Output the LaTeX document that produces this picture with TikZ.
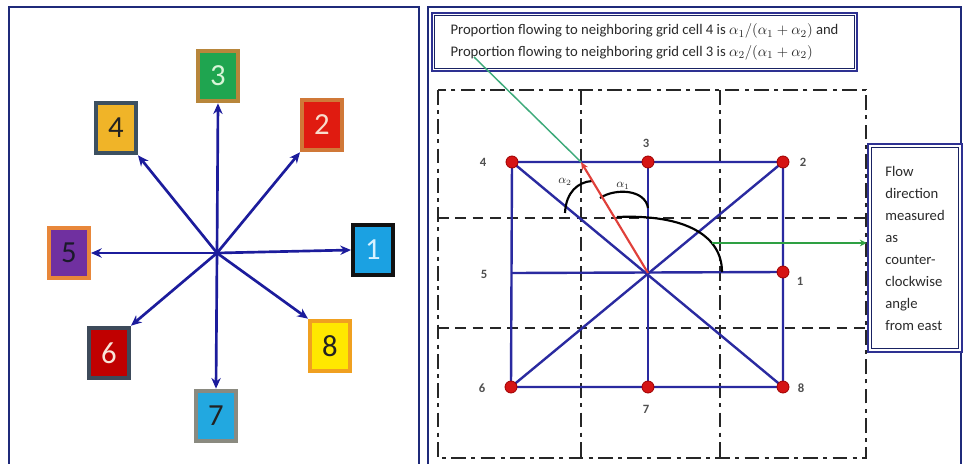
\documentclass[tikz,border=0pt]{standalone}
\usepackage{fontspec}
\setmainfont{Carlito}
\usetikzlibrary{arrows.meta}
\definecolor{panelblue}{HTML}{1F2A7A}
\definecolor{boxblue}{HTML}{2E3192}
\definecolor{lineblue}{HTML}{2A2AA0}
\definecolor{arrowblue}{HTML}{1C1C9C}
\definecolor{textgray}{HTML}{2A2A2A}
\definecolor{labelgray}{HTML}{505050}
\definecolor{dotred}{HTML}{D51414}
\definecolor{dotedge}{HTML}{A00000}
\definecolor{redline}{HTML}{E0403A}
\definecolor{tealline}{HTML}{3DAA7A}
\definecolor{greenarrow}{HTML}{2EA043}
\definecolor{fillA}{HTML}{1BA1E2}\definecolor{edgeA}{HTML}{111111}\definecolor{txtA}{HTML}{D8F2FF}
\definecolor{fillB}{HTML}{E01B10}\definecolor{edgeB}{HTML}{D07838}\definecolor{txtB}{HTML}{F8DCCC}
\definecolor{fillC}{HTML}{1FA550}\definecolor{edgeC}{HTML}{B8863B}\definecolor{txtC}{HTML}{D8F5D8}
\definecolor{fillD}{HTML}{F0B428}\definecolor{edgeD}{HTML}{3C5060}\definecolor{txtD}{HTML}{222222}
\definecolor{fillE}{HTML}{7030A0}\definecolor{edgeE}{HTML}{E8873A}\definecolor{txtE}{HTML}{1A1A2A}
\definecolor{fillF}{HTML}{C00000}\definecolor{edgeF}{HTML}{3D4A5A}\definecolor{txtF}{HTML}{F8E4D8}
\definecolor{fillG}{HTML}{22A8E0}\definecolor{edgeG}{HTML}{8A8A80}\definecolor{txtG}{HTML}{222222}
\definecolor{fillH}{HTML}{FFE800}\definecolor{edgeH}{HTML}{F0A020}\definecolor{txtH}{HTML}{222222}
\tikzset{
  panel/.style={draw=panelblue, line width=1.6pt},
  cbox/.style={rectangle, line width=3pt, minimum width=30pt, minimum height=38pt,
    inner sep=0pt, font=\fontsize{23}{26}\selectfont},
  barrow/.style={draw=arrowblue, line width=2pt, -{Stealth[length=8pt,width=7pt]}},
  griddash/.style={draw=black!85, line width=1.7pt, dash pattern=on 11pt off 4pt on 3pt off 4pt},
  gridmid/.style={draw=black!85, line width=1.7pt, dash pattern=on 8pt off 5pt},
  bline/.style={draw=lineblue, line width=1.8pt},
  angarc/.style={draw=black, line width=1.6pt},
  dot/.style={fill=dotred, draw=dotedge, line width=0.6pt},
  glabel/.style={text=labelgray, font=\fontsize{9.5}{11}\selectfont\bfseries, inner sep=0pt},
  alabel/.style={text=textgray, font=\fontsize{9}{10}\selectfont, inner sep=0pt},
  tbox/.style={draw=boxblue, line width=1.6pt, fill=white, minimum width=318.75pt,
    minimum height=43.5pt, align=left, inner sep=0pt, text=textgray,
    font=\fontsize{11}{16}\selectfont},
  rbox/.style={draw=boxblue, line width=2.2pt, fill=white, minimum width=70.5pt,
    minimum height=156pt, align=left, inner sep=0pt, text=textgray,
    font=\fontsize{11}{16.5}\selectfont},
  inframe/.style={draw=panelblue!80!black, line width=0.9pt}
}
\begin{document}
\begin{tikzpicture}[x=0.75pt,y=-0.75pt]
\useasboundingbox (0,0) rectangle (965,464);
\clip (0,0) rectangle (965,464);
\fill[white] (0,0) rectangle (965,464);
% panels
\draw[panel] (9,7) rectangle (419,472);
\draw[panel] (428,7) rectangle (961,472);

% ---------- left panel ----------
\coordinate (c) at (217,253);
\node[cbox, fill=fillA, draw=edgeA, text=txtA] (b1) at (373,250) {1};
\node[cbox, fill=fillB, draw=edgeB, text=txtB] (b2) at (322,125) {2};
\node[cbox, fill=fillC, draw=edgeC, text=txtC] (b3) at (218,76) {3};
\node[cbox, fill=fillD, draw=edgeD, text=txtD] (b4) at (116,128) {4};
\node[cbox, fill=fillE, draw=edgeE, text=txtE] (b5) at (69,253) {5};
\node[cbox, fill=fillF, draw=edgeF, text=txtF] (b6) at (109,353) {6};
\node[cbox, fill=fillG, draw=edgeG, text=txtG] (b7) at (216,416) {7};
\node[cbox, fill=fillH, draw=edgeH, text=txtH] (b8) at (330,346) {8};
\draw[barrow] (c) -- (b1.west);
\draw[barrow] (c) -- (b2.south west);
\draw[barrow] (c) -- (b3.south);
\draw[barrow] (c) -- (b4.south east);
\draw[barrow] (c) -- (b5.east);
\draw[barrow] (c) -- (b6.north east);
\draw[barrow] (c) -- (b7.north);
\draw[barrow] (c) -- (b8.north west);

% ---------- right panel ----------
% dashed grid
\draw[griddash] (438,90) rectangle (866,458);
\draw[griddash] (581,90) -- (581,458);
\draw[griddash] (720,90) -- (720,458);
\draw[gridmid] (438,218) -- (866,218);
\draw[gridmid] (438,328) -- (866,328);

% points
\coordinate (p1) at (783,272);
\coordinate (p2) at (783,162);
\coordinate (p3) at (648,162);
\coordinate (p4) at (512,162);
\coordinate (p5) at (512,273);
\coordinate (p6) at (511,387);
\coordinate (p7) at (648,387);
\coordinate (p8) at (783,387);
\coordinate (o) at (648,273);
\coordinate (r) at (581,162);

% blue lines
\draw[bline] (p4) -- (p2) -- (p8) -- (p6) -- cycle;
\draw[bline] (p3) -- (p7);
\draw[bline] (p5) -- (p1);
\draw[bline] (p4) -- (p8);
\draw[bline] (p6) -- (p2);

% angle arcs
\draw[angarc] (565,213) .. controls (566,192) and (578,182) .. (592,181);
\draw[angarc] (600,198) .. controls (615,188) and (645,189) .. (648,208);
\draw[angarc] (617,217) .. controls (686,214) and (722,236) .. (722,272);
\node[alabel] (a2) at (565,182) {$\alpha_2$};
\node[alabel] (a1) at (623,186) {$\alpha_1$};

% red arrow
\draw[draw=redline, line width=1.6pt, -{Stealth[length=6pt,width=5pt]}] (o) -- (r);

% red dots
\foreach \p in {p1,p2,p3,p4,p6,p7,p8} \filldraw[dot] (\p) circle (4.5pt);

% labels
\node[glabel] (l1) at (800,281) {1};
\node[glabel] (l2) at (803,162) {2};
\node[glabel] (l3) at (646,143) {3};
\node[glabel] (l4) at (483,162) {4};
\node[glabel] (l5) at (484,274) {5};
\node[glabel] (l6) at (482,388) {6};
\node[glabel] (l7) at (646,409) {7};
\node[glabel] (l8) at (801,388) {8};

% top text box
\node[tbox] (topbox) at (644.5,42) {Proportion flowing to neighboring grid cell 4 is $\alpha_1/(\alpha_1+\alpha_2)$ and\\Proportion flowing to neighboring grid cell 3 is $\alpha_2/(\alpha_1+\alpha_2)$};
\draw[inframe] ([shift={(3.5,3.5)}]topbox.north west) rectangle ([shift={(-3.5,-3.5)}]topbox.south east);
\coordinate (g) at (474,57);
\draw[draw=tealline, line width=1.1pt] (g) -- (r);

% right text box
\node[rbox] (rbox) at (915,248) {Flow\\direction\\measured\\as\\counter-\\clockwise\\angle\\from east};
\draw[inframe] ([shift={(5,5)}]rbox.north west) rectangle ([shift={(-5,-5)}]rbox.south east);

% green arrow
\coordinate (ga) at (712,243);
\draw[draw=greenarrow, line width=1.3pt, -{Stealth[length=5pt,width=5pt]}] (ga) -- (ga -| rbox.west);
\end{tikzpicture}
\end{document}
